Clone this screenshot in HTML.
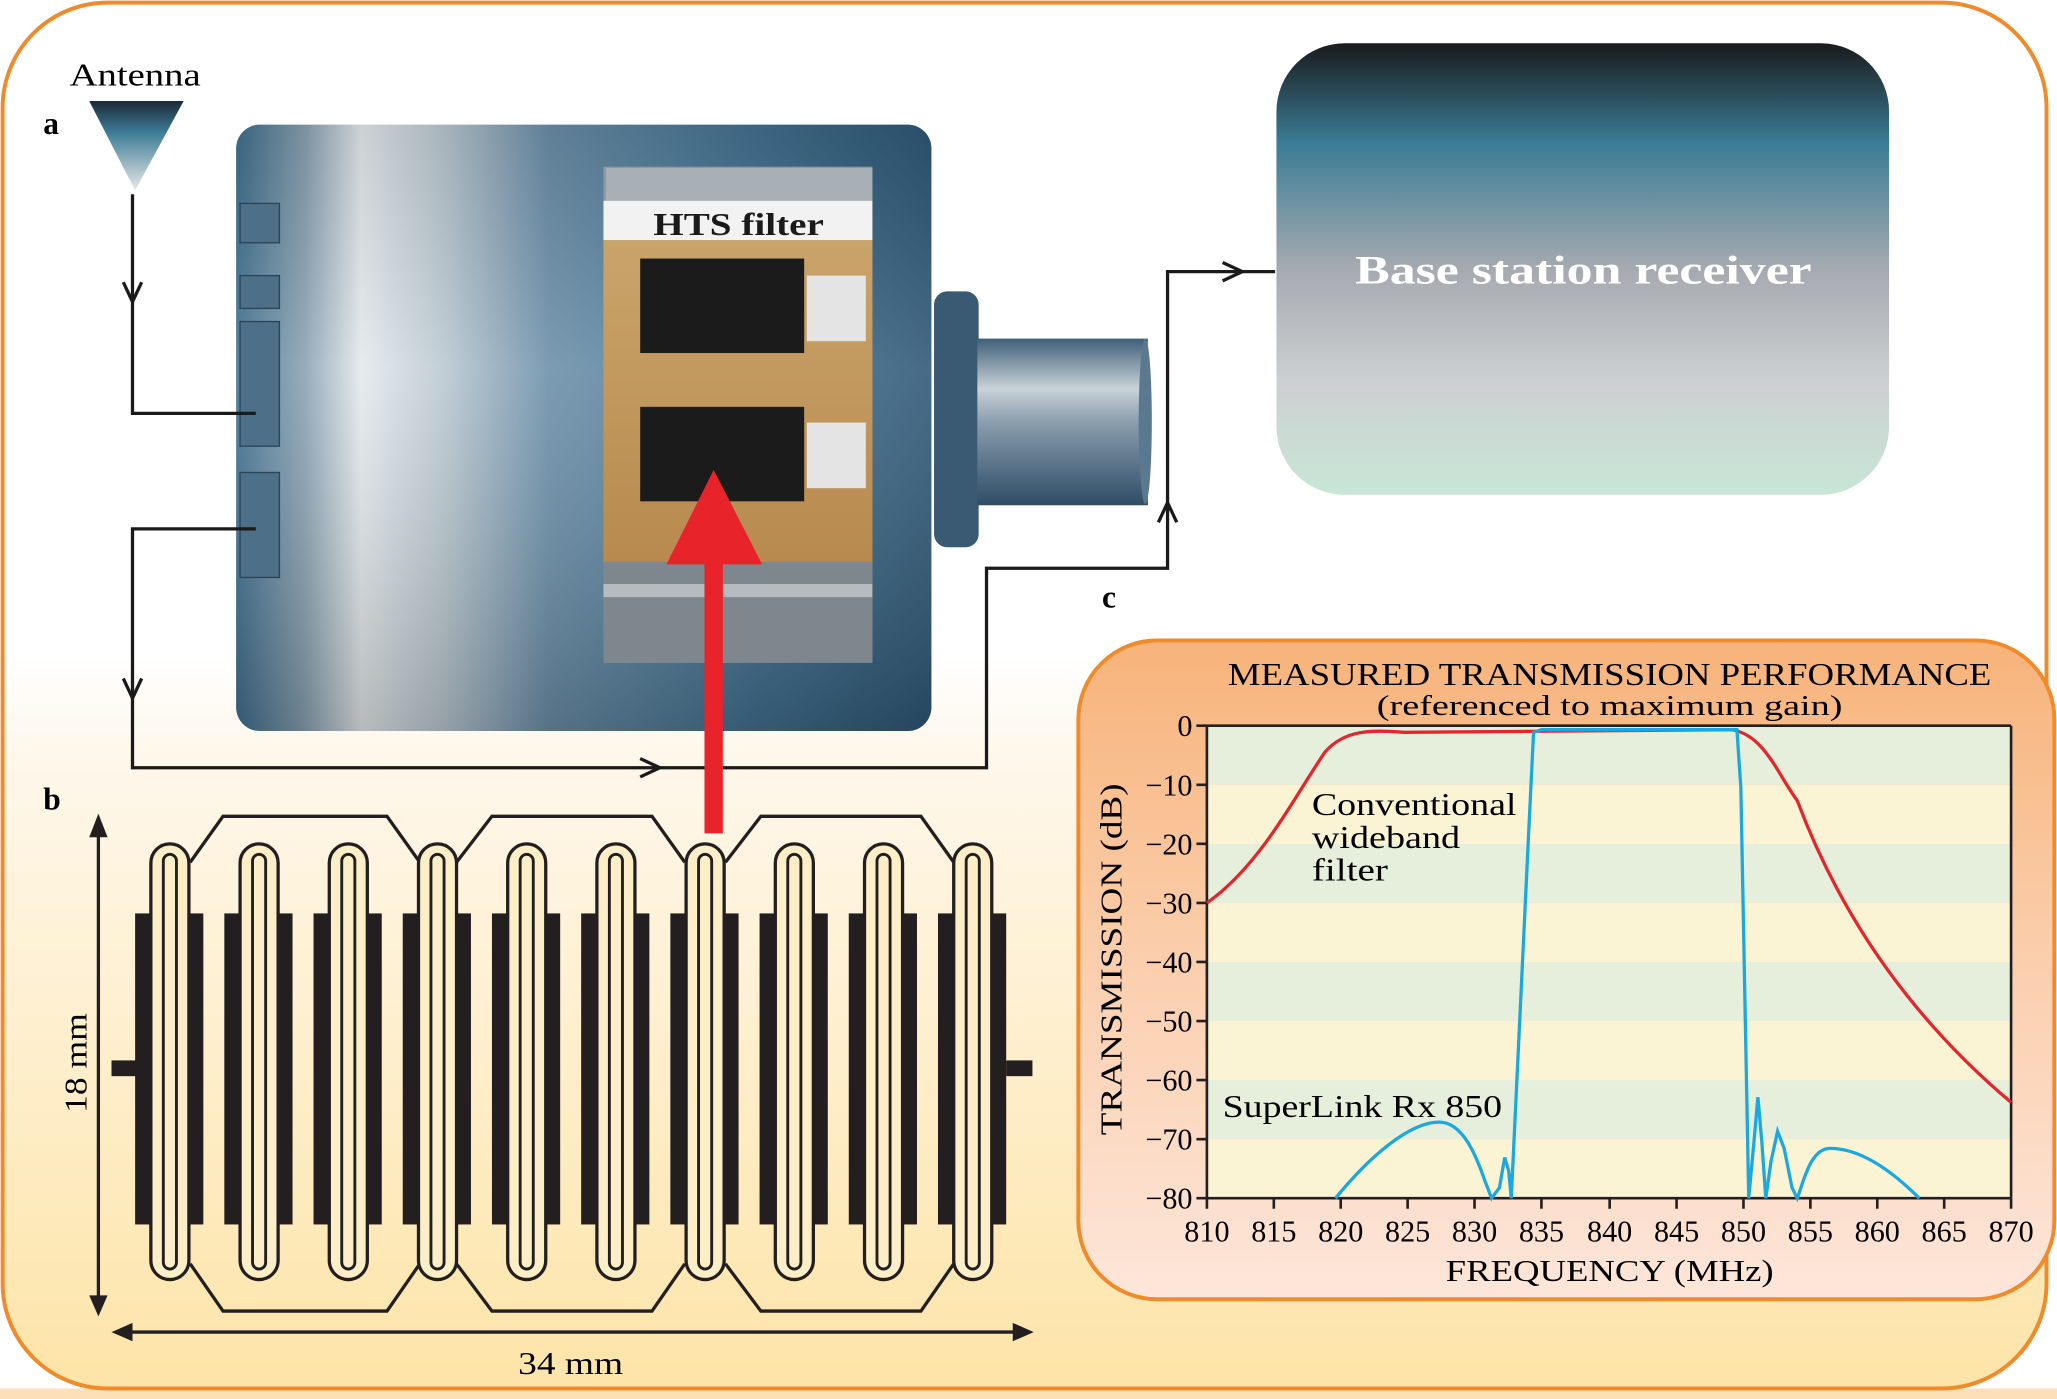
<!DOCTYPE html>
<html><head><meta charset="utf-8"><style>
html,body{margin:0;padding:0;background:#fff;}
svg{display:block;}
text{font-family:"Liberation Serif",serif;}
</style></head><body>
<svg width="2057" height="1399" viewBox="0 0 1568 1066" preserveAspectRatio="none" xmlns="http://www.w3.org/2000/svg">
<defs>
<linearGradient id="bg" x1="0" y1="0" x2="0" y2="1">
<stop offset="0" stop-color="#ffffff"/><stop offset="0.47" stop-color="#ffffff"/><stop offset="0.55" stop-color="#fef7ea"/><stop offset="1" stop-color="#fde4a8"/></linearGradient>
<linearGradient id="ant" x1="0" y1="0" x2="0" y2="1">
<stop offset="0" stop-color="#1c2a36"/><stop offset="0.35" stop-color="#3d7c96"/><stop offset="1" stop-color="#e8e8e8"/></linearGradient>
<linearGradient id="bs" x1="0" y1="0" x2="0" y2="1">
<stop offset="0" stop-color="#1a1a1c"/><stop offset="0.22" stop-color="#3a7c95"/><stop offset="0.5" stop-color="#a6aab0"/><stop offset="0.75" stop-color="#cdd0d2"/><stop offset="1" stop-color="#c8e6d6"/></linearGradient>
<linearGradient id="body" x1="0" y1="0" x2="1" y2="0">
<stop offset="0" stop-color="#3e6e8e"/><stop offset="0.1" stop-color="#8aa2b2"/><stop offset="0.18" stop-color="#e4e9ec"/><stop offset="0.3" stop-color="#b9c7d0"/><stop offset="0.45" stop-color="#6a8ea8"/><stop offset="0.75" stop-color="#41708f"/><stop offset="1" stop-color="#2e5775"/></linearGradient>
<linearGradient id="bodyv" x1="0" y1="0" x2="0" y2="1">
<stop offset="0" stop-color="#000" stop-opacity="0.1"/><stop offset="0.4" stop-color="#fff" stop-opacity="0.12"/><stop offset="1" stop-color="#000" stop-opacity="0.2"/></linearGradient>
<linearGradient id="shaft" x1="0" y1="0" x2="0" y2="1">
<stop offset="0" stop-color="#3e5f78"/><stop offset="0.3" stop-color="#c9d2d8"/><stop offset="0.5" stop-color="#8a9eae"/><stop offset="1" stop-color="#2e4d66"/></linearGradient>
<linearGradient id="panel" x1="0" y1="0" x2="0" y2="1">
<stop offset="0" stop-color="#f7b37a"/><stop offset="0.5" stop-color="#fbcfae"/><stop offset="1" stop-color="#fde6da"/></linearGradient>
<pattern id="stripes" x="920" y="553" width="10" height="90" patternUnits="userSpaceOnUse">
<rect width="10" height="45" fill="#e6efdc"/><rect y="45" width="10" height="45" fill="#fbf4d4"/></pattern>
<linearGradient id="win" x1="0" y1="0" x2="0" y2="1">
<stop offset="0" stop-color="#c9a46a"/><stop offset="1" stop-color="#b88a4f"/></linearGradient>
</defs>
<rect width="1568" height="1066" fill="#fff"/>
<rect x="0" y="1058" width="1568" height="8" fill="#fde0b8"/>
<rect x="2" y="2" width="1558" height="1056" rx="80" fill="url(#bg)" stroke="#f08a2a" stroke-width="3"/>

<text x="103" y="65" font-size="24" text-anchor="middle" textLength="100" lengthAdjust="spacingAndGlyphs">Antenna</text>
<polygon points="68,77 140,77 103,145" fill="url(#ant)"/>
<text x="33" y="102" font-size="24" font-weight="bold">a</text>
<text x="33" y="617" font-size="24" font-weight="bold">b</text>
<text x="840" y="463" font-size="24" font-weight="bold">c</text>

<rect x="180" y="95" width="530" height="462" rx="18" fill="url(#body)"/>
<rect x="180" y="95" width="530" height="462" rx="18" fill="url(#bodyv)"/>
<g fill="#4d6f87" stroke="#2a4458" stroke-width="1">
<rect x="183" y="155" width="30" height="30"/><rect x="183" y="210" width="30" height="25"/>
<rect x="183" y="245" width="30" height="95"/><rect x="183" y="360" width="30" height="80"/>
</g>
<rect x="712" y="222" width="34" height="195" rx="10" fill="#3a5a74"/>
<rect x="745" y="258" width="130" height="127" fill="url(#shaft)"/>
<ellipse cx="873" cy="321" rx="5" ry="63" fill="#5a7890"/>
<rect x="460" y="127" width="205" height="378" fill="#8f9aa0"/>
<rect x="462" y="128" width="203" height="25" fill="#a8b0b5"/>
<rect x="460" y="153" width="205" height="30" fill="#f2f2f2"/>
<rect x="460" y="183" width="205" height="245" fill="url(#win)"/>
<rect x="488" y="197" width="125" height="72" fill="#1b1b1b"/>
<rect x="488" y="310" width="125" height="72" fill="#1b1b1b"/>
<rect x="615" y="210" width="45" height="50" fill="#e4e4e4"/>
<rect x="615" y="322" width="45" height="50" fill="#e4e4e4"/>
<rect x="460" y="428" width="205" height="77" fill="#7d878d"/>
<rect x="460" y="445" width="205" height="10" fill="#b5bcc0"/>
<text x="563" y="179" font-size="24" font-weight="bold" text-anchor="middle" fill="#1a1a1a" textLength="130" lengthAdjust="spacingAndGlyphs">HTS filter</text>

<g fill="none" stroke="#1a1a1a" stroke-width="2.5">
<polyline points="101,148 101,315 195,315"/>
<polyline points="195,403 101,403 101,585 752,585 752,433 890,433 890,207 972,207"/>
<polyline points="94,215 101,230 108,215"/>
<polyline points="94,517 101,532 108,517"/>
<polyline points="488,578 503,585 488,592"/>
<polyline points="883,398 890,383 897,398"/>
<polyline points="932,200 947,207 932,214"/>
</g>

<rect x="973" y="33" width="467" height="344" rx="52" fill="url(#bs)"/>
<text x="1207" y="216" font-size="31" font-weight="bold" fill="#fff" text-anchor="middle" textLength="348" lengthAdjust="spacingAndGlyphs">Base station receiver</text>

<rect x="537" y="425" width="14" height="210" fill="#e8232a"/>
<polygon points="508,430 581,430 544,358" fill="#e8232a"/>

<g stroke="#231f20" stroke-width="2.5" fill="none">
<polyline points="145,657 170,622 295,622 320,657"/>
<polyline points="348,657 375,622 497,622 522,657"/>
<polyline points="553,657 580,622 702,622 727,657"/>
<polyline points="145,963 170,999 295,999 320,963"/>
<polyline points="348,963 375,999 497,999 522,963"/>
<polyline points="553,963 580,999 702,999 727,963"/>
</g>
<rect x="85" y="808" width="22" height="12" fill="#231f20"/>
<rect x="767" y="808" width="20" height="12" fill="#231f20"/>
<g fill="#231f20">
<rect x="103" y="696" width="52" height="237"/><rect x="171" y="696" width="52" height="237"/><rect x="239" y="696" width="52" height="237"/><rect x="307" y="696" width="52" height="237"/><rect x="375" y="696" width="52" height="237"/><rect x="443" y="696" width="52" height="237"/><rect x="511" y="696" width="52" height="237"/><rect x="579" y="696" width="52" height="237"/><rect x="647" y="696" width="52" height="237"/><rect x="715" y="696" width="52" height="237"/>
</g>
<g stroke="#231f20" stroke-width="2.5" fill="#fcefc8">
<rect x="115" y="643" width="29" height="332" rx="14.5"/><rect x="183" y="643" width="29" height="332" rx="14.5"/><rect x="251" y="643" width="29" height="332" rx="14.5"/><rect x="319" y="643" width="29" height="332" rx="14.5"/><rect x="387" y="643" width="29" height="332" rx="14.5"/><rect x="455" y="643" width="29" height="332" rx="14.5"/><rect x="523" y="643" width="29" height="332" rx="14.5"/><rect x="591" y="643" width="29" height="332" rx="14.5"/><rect x="659" y="643" width="29" height="332" rx="14.5"/><rect x="727" y="643" width="29" height="332" rx="14.5"/>
</g>
<g stroke="#231f20" stroke-width="2.2" fill="#fcefc8">
<rect x="124.5" y="651" width="10" height="316" rx="5"/><rect x="192.5" y="651" width="10" height="316" rx="5"/><rect x="260.5" y="651" width="10" height="316" rx="5"/><rect x="328.5" y="651" width="10" height="316" rx="5"/><rect x="396.5" y="651" width="10" height="316" rx="5"/><rect x="464.5" y="651" width="10" height="316" rx="5"/><rect x="532.5" y="651" width="10" height="316" rx="5"/><rect x="600.5" y="651" width="10" height="316" rx="5"/><rect x="668.5" y="651" width="10" height="316" rx="5"/><rect x="736.5" y="651" width="10" height="316" rx="5"/>
</g>
<g stroke="#231f20" stroke-width="2.5"><line x1="75" y1="635" x2="75" y2="990"/><line x1="98" y1="1015" x2="775" y2="1015"/></g>
<g fill="#231f20"><polygon points="68,638 82,638 75,620"/><polygon points="68,987 82,987 75,1003"/><polygon points="101,1008 101,1022 85,1015"/><polygon points="772,1008 772,1022 788,1015"/></g>
<text x="0" y="0" font-size="24" transform="translate(66,810) rotate(-90)" text-anchor="middle" textLength="76" lengthAdjust="spacingAndGlyphs">18 mm</text>
<text x="435" y="1047" font-size="24" text-anchor="middle" textLength="80" lengthAdjust="spacingAndGlyphs">34 mm</text>

<rect x="822" y="488" width="744" height="502" rx="60" fill="url(#panel)" stroke="#f08a2a" stroke-width="3"/>
<text x="1227" y="522" font-size="24" text-anchor="middle" textLength="582" lengthAdjust="spacingAndGlyphs">MEASURED TRANSMISSION PERFORMANCE</text>
<text x="1227" y="545" font-size="22" text-anchor="middle" textLength="355" lengthAdjust="spacingAndGlyphs">(referenced to maximum gain)</text>
<rect x="920" y="553" width="613" height="360" fill="url(#stripes)"/>
<g stroke="#231f20" stroke-width="2" fill="none">
<line x1="920" y1="553" x2="1533" y2="553"/><line x1="920" y1="553" x2="920" y2="913"/><line x1="920" y1="913" x2="1533" y2="913"/><line x1="1533" y1="553" x2="1533" y2="913"/>
<path d="M912,553h8M912,598h8M912,643h8M912,688h8M912,733h8M912,778h8M912,823h8M912,868h8M912,913h8"/>
<path d="M920,913v8M971,913v8M1022,913v8M1073,913v8M1124,913v8M1175,913v8M1227,913v8M1278,913v8M1329,913v8M1380,913v8M1431,913v8M1482,913v8M1533,913v8"/>
</g>
<g font-size="23" text-anchor="end">
<text x="909" y="561">0</text><text x="909" y="606">−10</text><text x="909" y="651">−20</text><text x="909" y="696">−30</text><text x="909" y="741">−40</text><text x="909" y="786">−50</text><text x="909" y="831">−60</text><text x="909" y="876">−70</text><text x="909" y="921">−80</text>
</g>
<g font-size="23" text-anchor="middle">
<text x="920" y="946">810</text><text x="971" y="946">815</text><text x="1022" y="946">820</text><text x="1073" y="946">825</text><text x="1124" y="946">830</text><text x="1175" y="946">835</text><text x="1227" y="946">840</text><text x="1278" y="946">845</text><text x="1329" y="946">850</text><text x="1380" y="946">855</text><text x="1431" y="946">860</text><text x="1482" y="946">865</text><text x="1533" y="946">870</text>
</g>
<text x="1227" y="976" font-size="23" text-anchor="middle" textLength="250" lengthAdjust="spacingAndGlyphs">FREQUENCY (MHz)</text>
<text font-size="23" text-anchor="middle" transform="translate(855,731) rotate(-90)" textLength="268" lengthAdjust="spacingAndGlyphs">TRANSMISSION (dB)</text>
<text x="1000" y="621" font-size="24" textLength="156" lengthAdjust="spacingAndGlyphs">Conventional</text>
<text x="1000" y="646" font-size="24" textLength="113" lengthAdjust="spacingAndGlyphs">wideband</text>
<text x="1000" y="671" font-size="24" textLength="58" lengthAdjust="spacingAndGlyphs">filter</text>
<text x="932" y="851" font-size="24" textLength="213" lengthAdjust="spacingAndGlyphs">SuperLink Rx 850</text>
<path d="M920,688 C960,660 985,610 1010,573 C1025,556 1045,556 1070,558 L1320,556 C1345,560 1355,590 1370,610 C1400,690 1450,770 1533,840" fill="none" stroke="#e3262c" stroke-width="2.5"/>
<path d="M1018,913 C1045,880 1075,855 1097,855 C1115,855 1125,880 1132,900 L1137,913 L1143,905 L1147,882 L1150,892 L1152,913 L1165,640 L1169,558 L1175,556 L1324,556 L1327,600 L1333,913 L1337,870 L1340,836 L1343,870 L1346,913 L1350,885 L1355,862 L1360,875 L1366,905 L1370,913 C1375,900 1380,875 1395,875 C1420,875 1445,895 1463,913" fill="none" stroke="#1ba7e0" stroke-width="2.5"/>
</svg>
</body></html>
